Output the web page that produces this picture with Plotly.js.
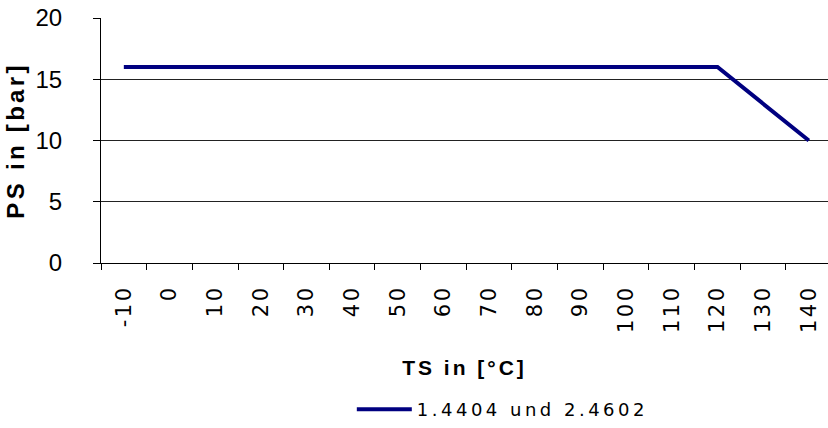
<!DOCTYPE html>
<html>
<head>
<meta charset="utf-8">
<script src="https://cdn.plot.ly/plotly-3.0.1.min.js"></script>
<style>
html,body{margin:0;padding:0;background:#fff;}
#chart{width:828px;height:428px;}
.xtick text{letter-spacing:2.5px;}
.legendtext{letter-spacing:3.5px;}
.g-xtitle text{letter-spacing:3px;}
.g-ytitle text{letter-spacing:3.3px;}
</style>
</head>
<body>
<div id="chart"></div>
<script>
const categories = ['-10','0','10','20','30','40','50','60','70','80','90','100','110','120','130','140'];
const psValues = [16,16,16,16,16,16,16,16,16,16,16,16,16,16,13,10];
const seriesName = '1.4404 und 2.4602';
const xTitle = 'TS in [°C]';
const yTitle = 'PS in [bar]';
const yTicks = [0,5,10,15,20];

const trace = {
  x: categories,
  y: psValues,
  type: 'scatter',
  mode: 'lines',
  name: seriesName,
  line: {color: '#000080', width: 4},
  showlegend: true
};

const layout = {
  width: 828, height: 428,
  margin: {l: 101, r: 0, t: 18, b: 159},
  paper_bgcolor: '#ffffff', plot_bgcolor: '#ffffff',
  showlegend: true,
  xaxis: {
    type: 'category',
    categoryorder: 'array', categoryarray: categories,
    range: [-0.5, 15.42],
    tickangle: -90,
    tickson: 'boundaries',
    ticks: 'outside', ticklen: 6, tickcolor: '#000', tickwidth: 1,
    ticklabelstandoff: 13,
    showline: true, linecolor: '#000', linewidth: 1,
    showgrid: false, zeroline: false,
    automargin: false,
    tickfont: {family: 'DejaVu Sans', size: 21, color: '#000'},
    title: {text: xTitle, standoff: 28, font: {family: 'Liberation Sans, Arial', size: 21, color: '#000', weight: 'bold'}}
  },
  yaxis: {
    range: [0, 20],
    tickvals: yTicks,
    ticks: 'outside', ticklen: 7, tickcolor: '#000',
    ticklabelposition: 'outside',
    ticklabelstandoff: 26,
    showline: true, linecolor: '#000', linewidth: 1,
    showgrid: true, gridcolor: '#222', gridwidth: 1,
    zeroline: false,
    automargin: false,
    tickfont: {family: 'Liberation Sans, Arial', size: 24, color: '#000'},
    title: {text: yTitle, standoff: 4, font: {family: 'Liberation Sans, Arial', size: 24, color: '#000', weight: 'bold'}}
  },
  legend: {
    orientation: 'h',
    itemwidth: 55,
    x: 0.345, xanchor: 'left',
    y: -0.60, yanchor: 'middle',
    font: {family: 'DejaVu Sans', size: 18, color: '#000'},
    bgcolor: 'rgba(0,0,0,0)'
  }
};

Plotly.newPlot('chart', [trace], layout, {displayModeBar: false, staticPlot: true});
</script>
</body>
</html>
